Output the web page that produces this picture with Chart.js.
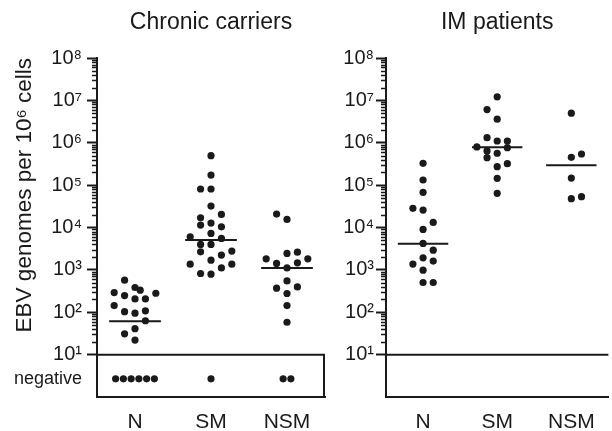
<!DOCTYPE html>
<html><head><meta charset="utf-8">
<script src="https://cdn.jsdelivr.net/npm/chart.js@4.4.1/dist/chart.umd.min.js"></script>
<style>
html,body{margin:0;padding:0;background:#fff;}
#wrap{position:relative;width:612px;height:431px;overflow:hidden;background:#fff;}
#c1{position:absolute;left:0;top:0;}
#c2{position:absolute;left:330px;top:0;}
</style></head><body>
<div id="wrap"><canvas id="c1" width="330" height="431"></canvas><canvas id="c2" width="282" height="431"></canvas></div>
<script>
// ---------- DATA ----------
const categories = ['N', 'SM', 'NSM'];
const ccTitle = 'Chronic carriers';
const imTitle = 'IM patients';
const yAxisTitle = 'EBV genomes per 10\u2076 cells';
const negativeLabel = 'negative';
const decadeExponents = [1, 2, 3, 4, 5, 6, 7, 8];

// Chronic carriers (values in genomes per 10^6 cells) and jitter column of each dot
const ccN   = [571, 292, 384, 331, 281, 248, 206, 206, 144, 103, 95, 108, 63, 31, 41, 22];
const ccN_col = [-1, -2, 0, 0.5, 2, -1, 0, 1, -2, -1, 0, 1, 1, -1, 0, 0];
const ccSM  = [495000, 173000, 81000, 81000, 32000, 20400, 17000, 11400, 12700, 10400, 6030, 7260, 5520, 3980, 3980, 2670, 2770, 2230, 1690, 1360, 1360, 1110, 822, 790];
const ccSM_col = [0, 0, -1, 0, 0, 1, -1, -1, 0, 1, -2, 0, 1, -1, 0, -1, 2, 1, 0, -2, 2, 1, -1, 0];
const ccNSM = [20700, 15500, 2440, 2620, 1820, 1820, 1420, 1470, 1110, 549, 369, 397, 277, 144, 58];
const ccNSM_col = [-1, 0, 0, 1, -2, 2, -1, 1, 0, 0, -1, 1, 0, 0, 0];
const ccMedians = [61, 5100, 1100];
const ccNegativeCounts = [6, 1, 2];

// IM patients
const imN   = [327000, 132000, 67600, 28300, 25800, 13200, 9020, 4210, 2920, 1920, 1370, 1610, 984, 504, 504];
const imN_col = [0, 0, 0, -1, 0, 1, 0, 0, 1, 0, -1, 1, 0, 0, 1];
const imSM  = [12100000, 6070000, 3600000, 1320000, 1100000, 1100000, 796000, 766000, 640000, 565000, 445000, 320000, 272000, 145000, 64000];
const imSM_col = [0, -1, 0, -1, 0, 1, -2, 1, -1, 0, -1, 1, 0, 0, 0];
const imNSM = [4980000, 454000, 543000, 147000, 47800, 53300];
const imNSM_col = [0, 0, 1, 0, 0, 1];
const imMedians = [4120, 780000, 294000];
const imNegativeCounts = [0, 0, 0];

// ---------- STYLE ----------
const INK = '#1a1a1a';
const FONT = '"Liberation Sans", Arial, Helvetica, sans-serif';
const COL_STEP = 0.137;      // jitter column width in category units
const NEG_STEP = 0.102;      // spacing of "negative" dots
const NEG_LEVEL = Math.pow(10, 0.43); // drawing level of the "negative" row
const MED_HALF = 0.34;
const SUP = ['\u2070','\u00b9','\u00b2','\u00b3','\u2074','\u2075','\u2076','\u2077','\u2078','\u2079'];

function pts(values, cols, catIdx) {
  return values.map((v, i) => ({ x: catIdx + 1 + cols[i] * COL_STEP, y: v }));
}
function negPts(counts) {
  const out = [];
  counts.forEach((n, c) => {
    for (let i = 0; i < n; i++) out.push({ x: c + 1 + (i - (n - 1) / 2) * NEG_STEP, y: NEG_LEVEL });
  });
  return out;
}
function medianPts(meds) {
  const out = [];
  meds.forEach((m, c) => {
    out.push({ x: c + 1 - MED_HALF, y: m }, { x: c + 1 + MED_HALF, y: m }, { x: c + 1.5, y: null });
  });
  return out;
}

const deco = {
  id: 'deco',
  afterDraw(chart, args, o) {
    const { ctx, chartArea: a, scales: { y } } = chart;
    ctx.save();
    ctx.strokeStyle = INK;
    ctx.lineWidth = 1.4;
    ctx.beginPath();
    for (let d = 1; d <= 7; d++) {
      for (let k = 2; k <= 9; k++) {
        const py = Math.round(y.getPixelForValue(k * Math.pow(10, d))) + 0.5;
        ctx.moveTo(a.left - 5, py); ctx.lineTo(a.left, py);
      }
    }
    ctx.stroke();
    ctx.lineWidth = 2;
    const ty = y.getPixelForValue(10);
    ctx.beginPath();
    ctx.moveTo(a.left, ty); ctx.lineTo(a.right, ty);
    if (o.box) { ctx.moveTo(a.right - 1, ty); ctx.lineTo(a.right - 1, a.bottom); }
    ctx.stroke();
    ctx.restore();
  }
};

function makeChart(canvas, cfg) {
  const yTicks = decadeExponents.map(e => Math.pow(10, e));
  if (cfg.negLabel) yTicks.push(NEG_LEVEL);
  return new Chart(canvas, {
    type: 'scatter',
    data: {
      datasets: [
        { type: 'scatter', data: cfg.points, pointRadius: 3.6, pointHoverRadius: 3.6, backgroundColor: INK, borderWidth: 0 },
        { type: 'line', data: cfg.medians, borderColor: INK, borderWidth: 2, pointRadius: 0, spanGaps: false, fill: false }
      ]
    },
    plugins: [deco],
    options: {
      responsive: false, animation: false, devicePixelRatio: 1,
      layout: { padding: { left: 0, right: cfg.padRight, top: 0, bottom: 0 } },
      plugins: {
        legend: { display: false }, tooltip: { enabled: false },
        title: { display: true, text: cfg.title, fullSize: false, color: INK,
                 font: { family: FONT, size: 23, weight: 'normal' }, padding: { top: 9, bottom: 21.4 } },
        deco: { box: cfg.box }
      },
      scales: {
        x: {
          type: 'linear', min: 0.5, max: 3.5,
          afterBuildTicks: s => { s.ticks = [1, 2, 3].map(v => ({ value: v })); },
          afterFit: s => { s.height = 34; },
          grid: { display: false, drawTicks: false },
          border: { display: true, color: INK, width: 2 },
          ticks: { color: INK, padding: 13, font: { family: FONT, size: 21 },
                   callback: v => categories[Math.round(v) - 1] }
        },
        y: {
          type: 'logarithmic', min: 1, max: 1e8,
          afterBuildTicks: s => { s.ticks = yTicks.map(v => ({ value: v })); },
          afterFit: s => { s.width = cfg.yWidth; },
          grid: { display: true, drawOnChartArea: false, drawTicks: true, tickLength: 10,
                  tickWidth: 2, tickColor: c => (c.tick && c.tick.value === NEG_LEVEL) ? 'rgba(0,0,0,0)' : INK },
          border: { display: true, color: INK, width: 2 },
          title: cfg.yTitle ? { display: true, text: cfg.yTitle, color: INK, align: 'end',
                   font: { family: FONT, size: 22.5 }, padding: { top: 11, bottom: 0 } } : { display: false },
          ticks: {
            autoSkip: false, color: INK, padding: cfg.tickPad,
            font: c => ({ family: FONT, size: (c.tick && c.tick.value === NEG_LEVEL) ? 18 : 20 }),
            callback: v => {
              if (v === NEG_LEVEL) return negativeLabel;
              const e = Math.round(Math.log10(v));
              return '10' + SUP[e];
            }
          }
        }
      }
    }
  });
}

makeChart(document.getElementById('c1'), {
  title: ccTitle, yTitle: yAxisTitle, negLabel: true, box: true, yWidth: 97, padRight: 5, tickPad: 5,
  points: [].concat(pts(ccN, ccN_col, 0), pts(ccSM, ccSM_col, 1), pts(ccNSM, ccNSM_col, 2), negPts(ccNegativeCounts)),
  medians: medianPts(ccMedians)
});
makeChart(document.getElementById('c2'), {
  title: imTitle, yTitle: null, negLabel: false, box: false, yWidth: 56, padRight: 0, tickPad: 2,
  points: [].concat(pts(imN, imN_col, 0), pts(imSM, imSM_col, 1), pts(imNSM, imNSM_col, 2), negPts(imNegativeCounts)),
  medians: medianPts(imMedians)
});
</script>
</body></html>
